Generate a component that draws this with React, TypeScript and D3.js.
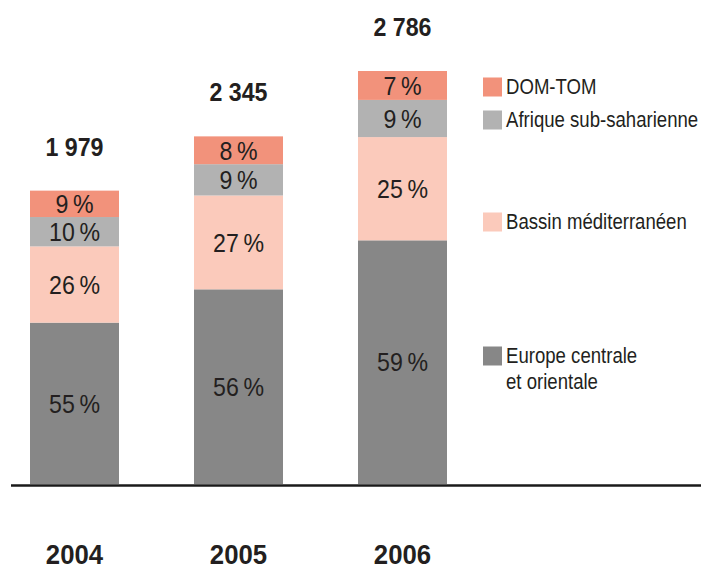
import React, { useEffect, useRef } from 'react';
import * as d3 from 'd3';

const years = ['2004', '2005', '2006'];
const totals = [1979, 2345, 2786];
const totalLabels = ['1 979', '2 345', '2 786'];

// bottom to top
const regions = ['Europe centrale et orientale', 'Bassin méditerranéen', 'Afrique sub-saharienne', 'DOM-TOM'];
const europe = [55, 56, 59];
const bassin = [26, 27, 25];
const afrique = [10, 9, 9];
const domtom = [9, 8, 7];

const colors = ['#878787', '#FBCABB', '#B2B2B2', '#F2927B'];

// legend, top to bottom
const legendLabels = [['DOM-TOM'], ['Afrique sub-saharienne'], ['Bassin méditerranéen'], ['Europe centrale', 'et orientale']];
const legendColors = ['#F2927B', '#B2B2B2', '#FBCABB', '#878787'];
const legendY = [87, 120, 222, 356];

// no condensed font installed, so Arial-metric text squeezed horizontally
const FONT = '"Liberation Sans", Arial, sans-serif';

export default function App() {
  const svgRef = useRef<SVGSVGElement | null>(null);

  useEffect(() => {
    const width = 701;
    const height = 569;
    const baseY = 484;

    const svg = d3.select(svgRef.current);
    svg.selectAll('*').remove();
    svg.attr('width', width).attr('height', height);

    const label = (parent: any, tx: number, ty: number, txt: string, size: number, sx: number, bold = false, anchor = 'middle') =>
      parent.append('text')
        .attr('transform', `translate(${tx},${ty}) scale(${sx},1)`)
        .attr('text-anchor', anchor)
        .style('font-family', FONT)
        .style('font-weight', bold ? 'bold' : 'normal')
        .style('font-size', `${size}px`)
        .style('fill', '#231F20')
        .text(txt);

    const x = d3.scaleBand<string>()
      .domain(years)
      .range([30, 447])
      .paddingInner(75 / 164)
      .paddingOuter(0);

    const y = d3.scaleLinear()
      .domain([0, d3.max(totals) as number])
      .range([baseY, 71]);

    const series = [europe, bassin, afrique, domtom];
    const rows = years.map((yr, i) => {
      const r: any = { year: yr };
      regions.forEach((k, j) => { r[k] = totals[i] * series[j][i] / 100; });
      return r;
    });
    const stacked = d3.stack<any>().keys(regions)(rows);

    // stacked segments
    stacked.forEach((layer, j) => {
      const g = svg.append('g');
      g.selectAll('rect')
        .data(layer)
        .enter()
        .append('rect')
        .attr('x', d => x(d.data.year) as number)
        .attr('y', d => y(d[1]))
        .attr('width', x.bandwidth())
        .attr('height', d => y(d[0]) - y(d[1]))
        .attr('fill', colors[j]);

      layer.forEach((d, i) => {
        const cx = (x(d.data.year) as number) + x.bandwidth() / 2;
        const cy = (y(d[0]) + y(d[1])) / 2 + 9.3;
        label(g, cx, cy, `${series[j][i]}\u2009%`, 26, 0.89);
      });
    });

    // totals on top
    years.forEach((yr, i) => {
      label(svg, (x(yr) as number) + x.bandwidth() / 2, y(totals[i]) - 35, totalLabels[i], 25.5, 0.91, true);
    });

    // baseline
    svg.append('line')
      .attr('x1', 11)
      .attr('x2', width)
      .attr('y1', baseY + 1.5)
      .attr('y2', baseY + 1.5)
      .attr('stroke', '#1a1a1a')
      .attr('stroke-width', 2.5);

    // year labels
    years.forEach(yr => {
      label(svg, (x(yr) as number) + x.bandwidth() / 2, 564, yr, 28, 0.92, true);
    });

    // legend
    const legend = svg.append('g');
    legendLabels.forEach((lines, i) => {
      const cy = legendY[i];
      legend.append('rect')
        .attr('x', 483)
        .attr('y', cy - 9.5)
        .attr('width', 19)
        .attr('height', 19)
        .attr('fill', legendColors[i]);
      lines.forEach((line, k) => {
        label(legend, 506, cy + 7 + k * 26, line, 22, 0.845, false, 'start');
      });
    });
  }, []);

  return (
    <svg
      ref={svgRef}
      style={{ position: 'absolute', left: 0, top: 0, display: 'block', background: '#fff' }}
    />
  );
}
